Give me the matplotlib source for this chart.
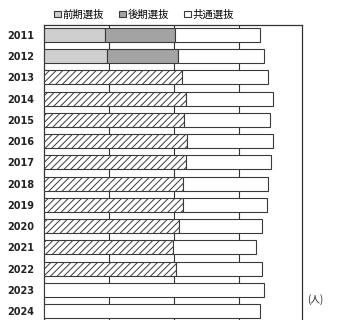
import matplotlib
matplotlib.use('Agg')
import matplotlib.pyplot as plt
import numpy as np

plt.rcParams['font.family'] = ['Noto Sans CJK JP', 'DejaVu Sans']

years = ['2011', '2012', '2013', '2014', '2015', '2016', '2017',
         '2018', '2019', '2020', '2021', '2022', '2023', '2024']
# 前期選抜 / 後期選抜 (2011-2012 only)
zenki = [940, 970, 0, 0, 0, 0, 0, 0, 0, 0, 0, 0, 0, 0]
kouki = [1075, 1090, 0, 0, 0, 0, 0, 0, 0, 0, 0, 0, 0, 0]
# hatched series (2013-2022), not in the legend
hatched = [0, 0, 2125, 2185, 2155, 2200, 2185, 2140, 2140, 2075, 1985, 2030, 0, 0]
# 共通選抜
kyotsu = [1310, 1325, 1320, 1340, 1320, 1325, 1310, 1305, 1290, 1280, 1275, 1325, 3385, 3325]

fig = plt.figure(figsize=(3.37, 3.20), dpi=100)
ax = fig.add_axes([0.1306, -0.005, 0.766, 0.927])

y = np.arange(len(years))
h = 0.66
edge = '#3a3a3a'
kw = dict(height=h, edgecolor=edge, linewidth=0.8, zorder=3)

ax.barh(y, zenki, color='#cfcfcf', label='前期選抜', **kw)
ax.barh(y, kouki, left=zenki, color='#a3a3a3', label='後期選抜', **kw)
plt.rcParams['hatch.color'] = '#444444'
plt.rcParams['hatch.linewidth'] = 0.7
ax.barh(y, hatched, color='white', hatch='/////', label='_nolegend_', **kw)
left3 = np.array(zenki) + np.array(kouki) + np.array(hatched)
ax.barh(y, kyotsu, left=left3, color='white', label='共通選抜', **kw)

for gx in [1000, 2000, 3000]:
    ax.axvline(gx, color='#333333', linewidth=0.8, zorder=1)

ax.set_xlim(0, 3970)
ax.set_ylim(13.5, -0.47)
ax.set_yticks(y)
ax.set_yticklabels(years, fontsize=7, fontweight='bold', color='#222222',
                   family='DejaVu Sans')
ax.tick_params(axis='y', length=0, pad=7)
ax.tick_params(axis='x', length=0, labelbottom=False)
for s in ax.spines.values():
    s.set_color('#333333')
    s.set_linewidth(0.9)

ax.legend(loc='lower left', bbox_to_anchor=(0.02, 1.0), ncol=3, frameon=False,
          fontsize=7.5, handlelength=0.6, handleheight=0.6, handletextpad=0.2,
          columnspacing=1.45, borderaxespad=0.1)

fig.text(0.91, 0.055, '(人)', fontsize=7, color='#222222')

fig.savefig('out.png', dpi=100)
